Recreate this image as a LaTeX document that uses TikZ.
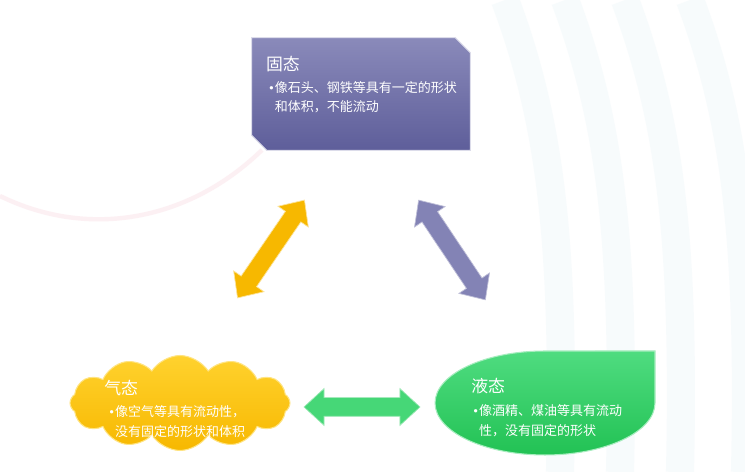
\documentclass[tikz,border=0pt]{standalone}
\usepackage{fontspec}
\setmainfont{Noto Sans CJK SC}
\newfontfamily\bulletfont{DejaVu Sans}
\usetikzlibrary{shapes.symbols,shapes.arrows,positioning}

\definecolor{solidtop}{HTML}{8A8ABA}
\definecolor{solidbot}{HTML}{5E5E9A}
\definecolor{gastop}{HTML}{FFD22E}
\definecolor{gasbot}{HTML}{F7B800}
\definecolor{liqtop}{HTML}{4FDC80}
\definecolor{liqbot}{HTML}{22C254}
\definecolor{bgpink}{HTML}{FBE6EB}
\definecolor{bgblue}{HTML}{EEF7FA}

\newcommand{\bul}{{\bulletfont\fontsize{6.5}{6.5}\selectfont •}}
\newcommand{\bulgap}{\phantom{\bul}}

\tikzset{
  title txt/.style={text=white, font=\fontsize{9.6}{11}\selectfont, inner sep=0pt, anchor=north west},
  body txt/.style={text=white, font=\fontsize{7.4}{11.3}\selectfont, inner sep=0pt, anchor=north west, align=left},
  dblarrow/.style={double arrow, draw=white!60!#1, line width=0.4pt, fill=#1,
    inner xsep=0pt, inner ysep=0.18cm, minimum width=0.72cm,
    double arrow head extend=0.18cm, double arrow tip angle=85},
}

\begin{document}
\begin{tikzpicture}[x=0.02cm, y=-0.02cm]
    \useasboundingbox (0,0) rectangle (745,472);

    % Background bands
    \fill[white] (0,0) rectangle (745,472);
    \draw[bgpink, line width=2.5pt, opacity=0.6] (0,196) .. controls (90,240) and (190,220) .. (262,150);
    \foreach \x in {505,565,625,690} {
        \draw[bgblue, line width=16pt, opacity=0.45] (\x,0) .. controls (\x+45,120) and (\x+60,240) .. (\x+55,472);
    }

    % Solid state box
    \node[minimum width=4.36cm, minimum height=2.24cm, inner sep=0pt] (solid) at (361,94) {};
    \draw[top color=solidtop, bottom color=solidbot, draw=white!70!solidtop, line width=0.6pt]
        (solid.north west) -- ([xshift=-0.3cm]solid.north east) -- ([yshift=-0.3cm]solid.north east)
        -- (solid.south east) -- ([xshift=0.3cm]solid.south west) -- ([yshift=0.3cm]solid.south west) -- cycle;
    \node[title txt] (solid title) at ([shift={(14,18)}]solid.north west) {固态};
    \node[body txt] (solid body) at ([shift={(16,43)}]solid.north west)
        {\bul 像石头、钢铁等具有一定的形状\\ \bulgap 和体积，不能流动};

    % Gas state cloud
    \node[cloud, cloud puffs=12, cloud puff arc=115, aspect=2.3,
          minimum width=4.4cm, minimum height=1.9cm, inner sep=0pt,
          top color=gastop, bottom color=gasbot, draw=white!40!gastop, line width=0.6pt]
          (gas) at (180,403) {};
    \node[title txt] (gas title) at (104,380) {气态};
    \node[body txt] (gas body) at (108,405)
        {\bul 像空气等具有流动性，\\ \bulgap 没有固定的形状和体积};

    % Liquid state leaf
    \coordinate (liquid) at (545,403);
    \draw[top color=liqtop, bottom color=liqbot, draw=white!50!liqtop, line width=0.6pt]
        (655,351) -- (655,403) arc (0:-270:2.2cm and 1.04cm) -- cycle;
    \node[title txt] (liquid title) at (471,378) {液态};
    \node[body txt] (liquid body) at (472,404)
        {\bul 像酒精、煤油等具有流动\\ \bulgap 性，没有固定的形状};

    % Arrows between states
    \node[dblarrow=gasbot, minimum height=2.37cm, rotate=55.6] (gas solid) at (271,249) {};
    \node[dblarrow=solidtop!85!solidbot, minimum height=2.4cm, rotate=-56.2] (solid liquid) at (452,250) {};
    \node[dblarrow=liqtop!80!liqbot, minimum height=2.32cm] (gas liquid) at (362,407) {};
\end{tikzpicture}
\end{document}
